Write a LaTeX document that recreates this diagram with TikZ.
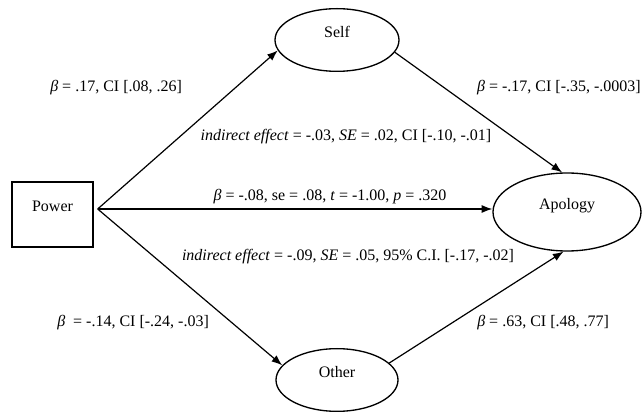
\documentclass[tikz,border=0pt]{standalone}
\usepackage{fontspec}
\setmainfont{Liberation Serif}
\usetikzlibrary{shapes.geometric,arrows.meta,positioning,calc}

\begin{document}
\begin{tikzpicture}[x=0.75pt, y=-0.75pt, font=\fontsize{12}{14}\selectfont]

		\tikzstyle{varbox} = [draw=black, rectangle, line width=1pt, minimum width=60.75pt, minimum height=48.75pt, text depth=12.5pt, inner sep=0pt]
		\tikzstyle{construct} = [draw=black, ellipse, line width=1pt, text depth=12pt, inner sep=0pt]
		\tikzstyle{flow} = [-{Latex[length=8pt, width=6pt]}, line width=0.9pt, draw=black]
		\tikzstyle{coef} = [inner sep=0pt]

		\useasboundingbox (0,0) rectangle (643,413);

		\node[varbox] (power) at (52.5,214.5) {Power};
		\node[construct, minimum width=93pt, minimum height=47pt] (self) at (337,40) {Self};
		\node[construct, minimum width=91.5pt, minimum height=47pt] (other) at (337,380) {Other};
		\node[construct, minimum width=111pt, minimum height=58.5pt] (apology) at (567,212) {Apology};

		\coordinate (hub) at ($(power.east)+(4,-5.5)$);

		\draw[flow] (hub) -- (self.190);
		\draw[flow] (hub) -- (other.165);
		\draw[flow] (hub) -- (hub -| apology.west);
		\draw[flow] (self.-12) -- (apology.97);
		\draw[flow] (other.18) -- (apology.265);

		\node[coef, anchor=west] (b_self) at (50,88) {\textit{β} = .17, CI [.08, .26]};
		\node[coef, anchor=east] (b_self_apo) at (641,88) {\textit{β} = -.17, CI [-.35, -.0003]};
		\node[coef] (ind_self) at (346,137) {\textit{indirect effect} = -.03, \textit{SE} = .02, CI [-.10, -.01]};
		\node[coef] (direct) at (330,197) {\textit{β} = -.08, se = .08, \textit{t} = -1.00, \textit{p} = .320};
		\node[coef] (ind_other) at (348,257) {\textit{indirect effect} = -.09, \textit{SE} = .05, 95\% C.I. [-.17, -.02]};
		\node[coef, anchor=west] (b_other) at (57,323) {\textit{β}\ \ = -.14, CI [-.24, -.03]};
		\node[coef, anchor=west] (b_other_apo) at (477,323) {\textit{β} = .63, CI [.48, .77]};

	\end{tikzpicture}
\end{document}
